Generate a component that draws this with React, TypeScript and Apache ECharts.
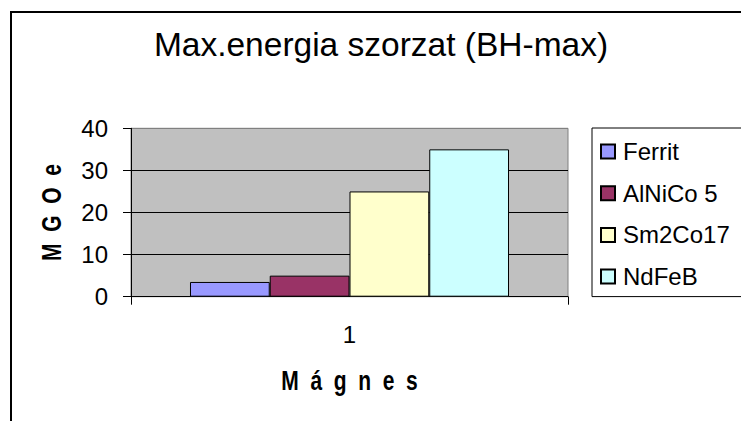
import React, { useEffect, useRef } from "react";
import * as echarts from "echarts";

const categories = ["1"];
const seriesNames = ["Ferrit", "AlNiCo 5", "Sm2Co17", "NdFeB"];
const seriesValues = [[3.5], [5], [25], [35]];
const seriesColors = ["#9999FF", "#993366", "#FFFFCC", "#CCFFFF"];
const yTicks = { min: 0, max: 40, interval: 10 };
const titleText = "Max.energia szorzat (BH-max)";
const xTitle = "M  á  g  n  e  s";
const yTitle = "M  G  O  e";

const FONT = "'Liberation Sans', Arial, sans-serif";

export default function App() {
  const ref = useRef<HTMLDivElement>(null);
  useEffect(() => {
    if (!ref.current) return;
    const chart = echarts.init(ref.current, undefined, { renderer: "svg" });
    chart.setOption({
      animation: false,
      backgroundColor: "#FFFFFF",
      title: {
        text: titleText,
        left: 381,
        textAlign: "center",
        top: 27,
        padding: 0,
        textStyle: { fontFamily: FONT, fontSize: 33.5, fontWeight: "normal", color: "#000" },
      },
      grid: {
        left: 131,
        top: 128.3,
        right: 173,
        bottom: 124.3,
        show: true,
        backgroundColor: "#C0C0C0",
        borderColor: "#808080",
        borderWidth: 1,
      },
      legend: {
        orient: "vertical",
        left: 592,
        top: 128,
        padding: [11.5, 12, 8, 8],
        itemWidth: 14,
        itemHeight: 14,
        itemGap: 17.7,
        borderColor: "#000",
        borderWidth: 1,
        icon: "rect",
        data: seriesNames,
        textStyle: {
          fontFamily: FONT,
          fontSize: 24,
          lineHeight: 24,
          color: "#000",
          padding: [0, 0, 0, 3],
        },
      },
      xAxis: {
        type: "category",
        data: categories,
        axisLine: { lineStyle: { color: "#000", width: 1 } },
        axisTick: { show: true, length: 8, alignWithLabel: false, lineStyle: { color: "#000" } },
        axisLabel: { fontFamily: FONT, fontSize: 24, color: "#000", margin: 26 },
        splitLine: { show: false },
      },
      yAxis: {
        type: "value",
        min: yTicks.min,
        max: yTicks.max,
        interval: yTicks.interval,
        axisLine: { show: true, lineStyle: { color: "#000", width: 1 } },
        axisTick: { show: true, length: 8, lineStyle: { color: "#000" } },
        axisLabel: { fontFamily: FONT, fontSize: 24, color: "#000", margin: 23 },
        splitLine: {
          show: true,
          lineStyle: { color: ["#000", "#000", "#000", "#000", "#808080"], width: 1 },
        },
      },
      series: seriesNames.map((name, i) => ({
        name,
        type: "bar",
        data: seriesValues[i],
        barGap: "0%",
        barCategoryGap: "27%",
        itemStyle: { color: seriesColors[i], borderColor: "#000", borderWidth: 1 },
      })),
      graphic: [
        {
          type: "rect",
          shape: { x: 11, y: 12, width: 900, height: 600 },
          style: { fill: "none", stroke: "#000", lineWidth: 2 },
          silent: true,
        },
        {
          type: "text",
          x: 349.5,
          y: 380,
          scaleX: 0.75,
          style: {
            text: xTitle,
            fontFamily: FONT,
            fontSize: 28,
            fontWeight: "bold",
            fill: "#000",
            textAlign: "center",
            textVerticalAlign: "middle",
          },
        },
        {
          type: "text",
          x: 51.7,
          y: 212.5,
          rotation: Math.PI / 2,
          scaleX: 0.75,
          style: {
            text: yTitle,
            fontFamily: FONT,
            fontSize: 28,
            fontWeight: "bold",
            fill: "#000",
            textAlign: "center",
            textVerticalAlign: "middle",
          },
        },
      ],
    });
    return () => chart.dispose();
  }, []);
  return (
    <div
      ref={ref}
      style={{ position: "absolute", left: 0, top: 0, width: 741, height: 421 }}
    />
  );
}
